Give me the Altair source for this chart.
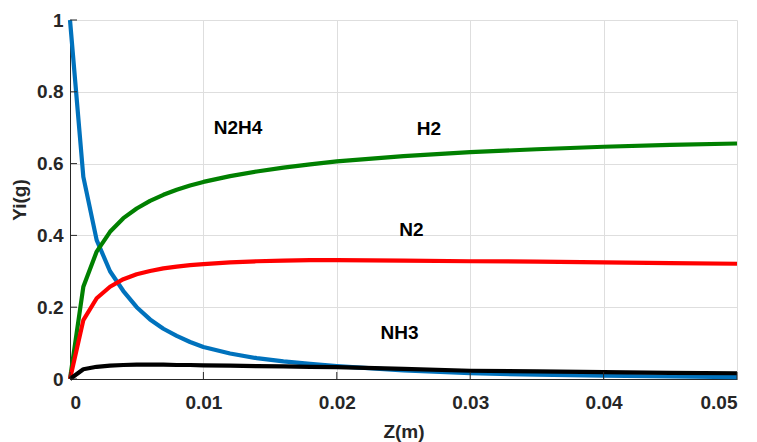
import altair as alt
import pandas as pd

z = [0, 0.001, 0.002, 0.003, 0.004, 0.005, 0.006, 0.007, 0.008, 0.009, 0.010,
     0.012, 0.014, 0.016, 0.018, 0.020, 0.025, 0.030, 0.035, 0.040, 0.045, 0.050]
n2h4 = [1.0, 0.563, 0.387, 0.30, 0.245, 0.20, 0.166, 0.140, 0.120, 0.103, 0.089,
        0.071, 0.058, 0.049, 0.042, 0.036, 0.024, 0.016, 0.012, 0.009, 0.007, 0.005]
h2 = [0, 0.257, 0.355, 0.41, 0.448, 0.475, 0.496, 0.513, 0.527, 0.539, 0.549,
      0.565, 0.578, 0.589, 0.598, 0.606, 0.621, 0.632, 0.640, 0.647, 0.652, 0.656]
n2 = [0, 0.164, 0.225, 0.257, 0.278, 0.292, 0.301, 0.308, 0.313, 0.317, 0.320,
      0.325, 0.328, 0.330, 0.331, 0.331, 0.330, 0.328, 0.327, 0.325, 0.323, 0.321]
nh3 = [0, 0.027, 0.034, 0.037, 0.039, 0.040, 0.040, 0.040, 0.039, 0.039, 0.038,
       0.037, 0.036, 0.035, 0.034, 0.033, 0.028, 0.023, 0.021, 0.019, 0.017, 0.016]

series_names = ["N2H4", "H2", "N2", "NH3"]
series_values = [n2h4, h2, n2, nh3]
series_colors = ["#0072BD", "#008000", "#FF0000", "#000000"]

label_text = ["N2H4", "H2", "N2", "NH3"]
label_z = [0.0126, 0.0269, 0.0256, 0.0247]
label_y = [0.70, 0.697, 0.415, 0.128]

x_ticks = [0, 0.01, 0.02, 0.03, 0.04, 0.05]
y_ticks = [0, 0.2, 0.4, 0.6, 0.8, 1]

W, H = 667, 359
FONT = "Liberation Sans"

xscale = alt.Scale(domain=[0, 0.05], nice=False, zero=False)
yscale = alt.Scale(domain=[0, 1], nice=False)

x_axis = alt.Axis(values=x_ticks, format="~g", title="Z(m)", grid=True, ticks=False,
                  labelPadding=14, titlePadding=10)
y_axis = alt.Axis(values=y_ticks, format="~g", title="Yi(g)", grid=True, ticks=False,
                  labelPadding=7, titlePadding=7)

layers = []
for name, vals, col in zip(series_names, series_values, series_colors):
    df = pd.DataFrame({"z": z, "y": vals})
    layers.append(
        alt.Chart(df).mark_line(color=col, strokeWidth=4.2, strokeJoin="round").encode(
            x=alt.X("z:Q", scale=xscale, axis=x_axis),
            y=alt.Y("y:Q", scale=yscale, axis=y_axis),
        )
    )

labels_df = pd.DataFrame({"t": label_text, "z": label_z, "y": label_y})
labels = alt.Chart(labels_df).mark_text(
    font=FONT, fontSize=19, fontWeight="bold", color="#000000", align="center", baseline="middle"
).encode(
    x=alt.X("z:Q", scale=xscale),
    y=alt.Y("y:Q", scale=yscale),
    text="t:N",
)

xt = alt.Chart(pd.DataFrame({"v": x_ticks})).mark_rule(color="#262626", strokeWidth=1).encode(
    x=alt.X("v:Q", scale=xscale),
    y=alt.value(H),
    y2=alt.value(H - 7),
)
yt = alt.Chart(pd.DataFrame({"v": y_ticks})).mark_rule(color="#262626", strokeWidth=1).encode(
    y=alt.Y("v:Q", scale=yscale),
    x=alt.value(0),
    x2=alt.value(7),
)

chart = alt.layer(*layers, xt, yt, labels).properties(
    width=W, height=H,
    autosize=alt.AutoSizeParams(type="none"),
    padding={"left": 70, "top": 20, "right": 20, "bottom": 63},
    background="white",
).configure_view(stroke="transparent").configure_axis(
    labelFont=FONT, titleFont=FONT, labelFontSize=19, titleFontSize=19,
    labelFontWeight="bold", titleFontWeight="bold",
    labelColor="#262626", titleColor="#262626",
    domainColor="#262626", domainWidth=1,
    gridColor="#dedede", gridWidth=1,
)

chart.save("out.html", embed_options={"renderer": "svg", "actions": False})
